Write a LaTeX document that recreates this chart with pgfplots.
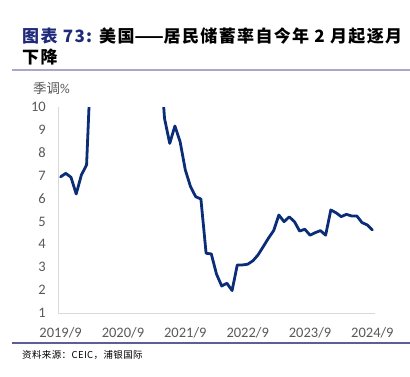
\documentclass[border=0pt]{standalone}
\usepackage{pgfplots}
\pgfplotsset{compat=1.18}
\usepackage{pgfplotstable}
\usepackage{fontspec}
\setmainfont{Carlito}
\newfontfamily\cjk{Noto Sans CJK SC}
\newfontfamily\cjkt[LetterSpace=8]{Noto Sans CJK SC}
\newfontfamily\cjks[LetterSpace=4]{Noto Sans CJK SC}
\definecolor{linec}{HTML}{0B2D78}
\definecolor{titlec}{HTML}{1F2A7A}
\definecolor{rulea}{HTML}{A9A6CF}
\definecolor{ruleb}{HTML}{5F5C9E}
\definecolor{tickc}{HTML}{595959}
\definecolor{axc}{HTML}{D9D9D9}
\pgfplotstableread{
m v
0 6.95
1 7.10
2 6.93
3 6.20
4 7.03
5 7.47
6 12.9
7 32.0
8 24.3
9 19.2
10 18.5
11 15.0
12 14.7
13 13.6
14 12.8
15 13.2
16 19.6
17 13.8
18 26.6
19 12.7
20 9.50
21 8.41
22 9.17
23 8.48
24 7.25
25 6.52
26 6.08
27 5.98
28 3.61
29 3.58
30 2.70
31 2.18
32 2.30
33 1.98
34 3.10
35 3.10
36 3.13
37 3.28
38 3.54
39 3.90
40 4.27
41 4.60
42 5.28
43 4.99
44 5.20
45 4.99
46 4.58
47 4.66
48 4.40
49 4.51
50 4.60
51 4.40
52 5.50
53 5.38
54 5.21
55 5.31
56 5.24
57 5.24
58 4.95
59 4.85
60 4.63
}\datatable
\begin{document}
\begin{tikzpicture}
\useasboundingbox (0,0) rectangle (410bp,377bp);
% title
\node[anchor=west, inner sep=0pt, font=\bfseries\fontsize{17bp}{17bp}\selectfont] at (22bp,340.5bp)
  {\cjkt\textcolor{titlec}{图表 73:} 美国{\cjk ——}居民储蓄率自今年 2 月起逐月};
\node[anchor=west, inner sep=0pt, font=\cjkt\bfseries\fontsize{17bp}{17bp}\selectfont] at (22bp,319.5bp) {下降};
\draw[rulea, line width=1.6bp] (12bp,307bp) -- (410bp,307bp);
\draw[ruleb, line width=1.4bp] (12bp,34bp) -- (410bp,34bp);
\node[anchor=west, inner sep=0pt, text=tickc, font=\fontsize{13.5bp}{13.5bp}\selectfont] at (33bp,288.5bp) {{\cjk 季调}\%};
\node[anchor=west, inner sep=0pt, font=\cjks\fontsize{9.5bp}{9.5bp}\selectfont] at (22bp,22bp) {资料来源：CEIC，浦银国际};
\begin{axis}[
  at={(58bp,64bp)}, anchor=south west,
  scale only axis, width=317bp, height=206bp,
  xmin=-0.5, xmax=60.5, ymin=1, ymax=10,
  axis x line*=bottom, axis y line*=left,
  axis line style={draw=axc, line width=0.8bp, -},
  xtick={0,12,24,36,48,60},
  xticklabels={2019/9,2020/9,2021/9,2022/9,2023/9,2024/9},
  ytick={1,2,3,4,5,6,7,8,9,10},
  major tick length=0pt, tick style={draw=none},
  /pgf/number format/assume math mode=true,
  tick label style={text=tickc, font=\fontsize{14.5bp}{14.5bp}\selectfont},
  yticklabel style={anchor=east, inner sep=0pt, xshift=-12bp},
  xticklabel style={anchor=north, inner sep=0pt, yshift=-14bp},
  clip=true,
]
\addplot[linec, line width=2.8bp, line join=round, line cap=round] table[x=m, y=v] {\datatable};
\end{axis}
\end{tikzpicture}
\end{document}
